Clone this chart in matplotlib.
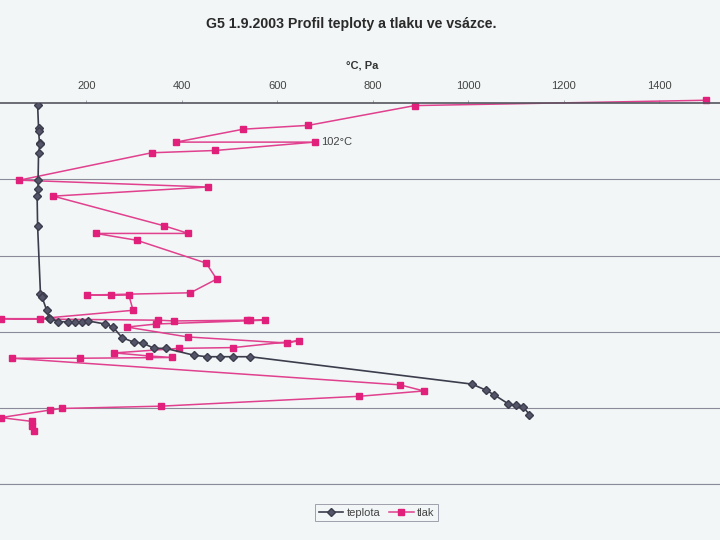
import numpy as np
import matplotlib
matplotlib.use("Agg")
import matplotlib.pyplot as plt

plt.rcParams['font.family'] = ['Liberation Sans', 'DejaVu Sans']

# teplota (°C) vs. hloubka
teplota_x = [98, 100, 100, 102, 103, 100, 99, 99, 97, 98, 104, 109, 107, 117, 122, 125,
             141, 162, 176, 190, 204, 239, 256, 275, 300, 318, 342, 366, 425, 452, 479,
             508, 543, 1008, 1037, 1054, 1084, 1099, 1115, 1128]
teplota_h = [0.02, 0.32, 0.36, 0.52, 0.54, 0.65, 1.01, 1.13, 1.22, 1.61, 2.50, 2.53, 2.54,
             2.72, 2.82, 2.83, 2.87, 2.87, 2.87, 2.87, 2.86, 2.90, 2.94, 3.08, 3.14, 3.15,
             3.22, 3.22, 3.31, 3.33, 3.33, 3.33, 3.33, 3.69, 3.77, 3.83, 3.95, 3.97, 3.99, 4.09]

# tlak (Pa) vs. hloubka
tlak_x = [1498, 888, 665, 529, 388, 678, 470, 337, 60, 455, 131, 363, 414, 220, 306, 451,
          473, 418, 202, 251, 289, 298, 102, 21, 351, 384, 536, 543, 574, 347, 285, 412,
          620, 645, 508, 395, 259, 331, 380, 187, 44, 857, 907, 772, 356, 149, 125, 21,
          86, 87, 91]
tlak_h = [-0.04, 0.03, 0.29, 0.34, 0.51, 0.51, 0.62, 0.65, 1.01, 1.10, 1.22, 1.61, 1.71,
          1.71, 1.80, 2.10, 2.31, 2.49, 2.52, 2.52, 2.52, 2.72, 2.83, 2.83, 2.85, 2.86,
          2.85, 2.85, 2.85, 2.90, 2.94, 3.07, 3.15, 3.12, 3.21, 3.22, 3.28, 3.32, 3.34,
          3.35, 3.35, 3.70, 3.78, 3.85, 3.98, 4.01, 4.03, 4.13, 4.18, 4.24, 4.31]

xticks = [200, 400, 600, 800, 1000, 1200, 1400]

bg = "#f2f6f6"
fig = plt.figure(figsize=(7.2, 5.4), dpi=100, facecolor=bg)
ax = fig.add_axes([-9.2 / 720, 1 - 483.8 / 540, 764 / 720, 380.5 / 540], facecolor=bg)

ax.plot(teplota_x, teplota_h, color="#3c3c4c", lw=1.2, marker="D", ms=4,
        mfc="#55556a", mec="#3c3c4c", label="teplota", zorder=3)
ax.plot(tlak_x, tlak_h, color="#e0408e", lw=1.1, marker="s", ms=5,
        mfc="#e0207a", mec="#e0207a", label="tlak", zorder=2, clip_on=False)

ax.annotate("102°C", (tlak_x[5], tlak_h[5]), xytext=(5, 0), textcoords="offset points",
            va="center", ha="left", fontsize=8, color="#444444")

ax.set_xlim(0, 1600)
ax.set_ylim(5, 0)
ax.set_xticks(xticks)
ax.xaxis.tick_top()
ax.tick_params(axis="x", direction="out", length=2.5, width=0.6, color="#9a9aa6",
               pad=6, labelsize=8, labelcolor="#444444")
ax.set_yticks([1, 2, 3, 4, 5])
ax.tick_params(axis="y", left=False, labelleft=False)
ax.grid(axis="y", color="#8a8a9a", lw=0.8)
for s in ["left", "right"]:
    ax.spines[s].set_visible(False)
ax.spines["bottom"].set_color("#8a8a9a")
ax.spines["bottom"].set_linewidth(0.8)
ax.spines["top"].set_color("#55555f")
ax.spines["top"].set_linewidth(1.2)

fig.text(351 / 720, 1 - 24 / 540, "G5 1.9.2003 Profil teploty a tlaku ve vsázce.",
         ha="center", va="center", fontsize=10.2, fontweight="bold", color="#2a2a2a")
fig.text(362 / 720, 1 - 65 / 540, "°C, Pa", ha="center", va="center",
         fontsize=8, fontweight="bold", color="#333333")

leg = fig.legend(loc="center", bbox_to_anchor=(376.5 / 720, 1 - 512.5 / 540), ncol=2,
                 fontsize=8, frameon=True, fancybox=False, handlelength=2.2,
                 columnspacing=0.8, handletextpad=0.3, borderpad=0.3, labelcolor="#444444")
leg.get_frame().set_edgecolor("#8a8a9a")
leg.get_frame().set_facecolor(bg)
leg.get_frame().set_linewidth(0.7)

fig.savefig("out.png", dpi=100, facecolor=bg)
